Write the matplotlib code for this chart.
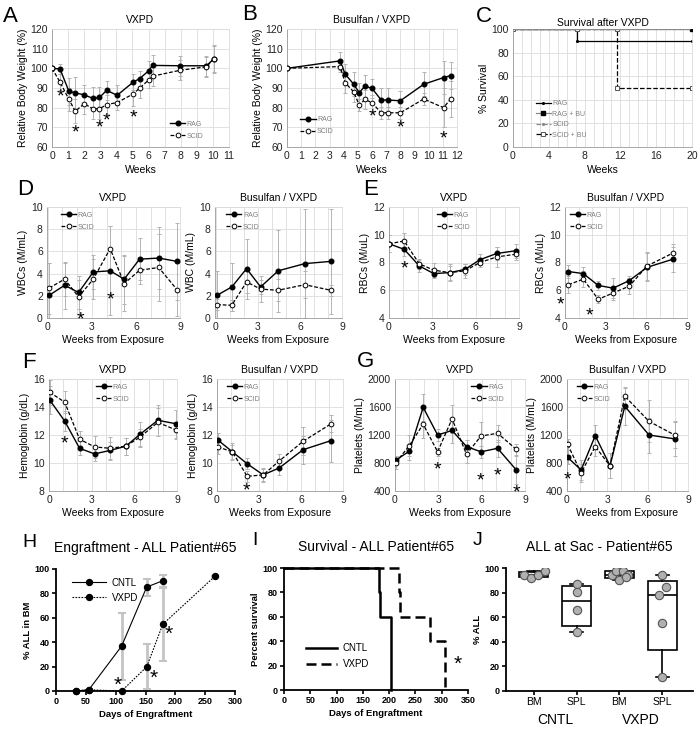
import numpy as np
import matplotlib
matplotlib.use("Agg")
import matplotlib.pyplot as plt

plt.rcParams['font.family'] = ['Liberation Sans', 'DejaVu Sans']

W, H = 700, 729

# ---------------- A : body weight after VXPD
a_weeks = [0, 0.5, 1.05, 1.45, 2.0, 2.55, 2.95, 3.4, 4.05, 5.05, 5.45, 6.0, 6.25, 7.95, 9.6, 10.05]
a_rag = [100, 99.7, 88.3, 87.5, 86.5, 84.7, 85.2, 88.8, 86.3, 93.0, 94.8, 98.7, 101.5, 101.3, 101.3, 104.8]
a_rag_err = [0, 2.5, 7, 8, 5, 6, 5.5, 5, 5, 4, 4, 5, 5.5, 5, 5, 6.5]
a_scid = [100, 93.0, 84.2, 78.2, 82.0, 79.4, 79.4, 81.6, 82.6, 87.0, 90.0, 94.0, 96.0, 99.0, 100.8, 104.8]
a_scid_err = [0, 4, 6, 6, 5, 5, 5, 5, 4, 6, 5, 4, 5, 5, 5, 7]
a_star_x = [0.5, 1.45, 2.95, 3.4, 5.05]
a_star_y = [88, 70, 72.5, 76, 77.5]

# ---------------- B : body weight after Busulfan / VXPD
b_weeks = [0, 3.75, 4.1, 4.7, 5.1, 5.5, 6.0, 6.65, 7.1, 8.0, 9.65, 11.05, 11.55]
b_rag = [100, 103.8, 97.1, 92.0, 87.6, 91.0, 89.8, 83.9, 83.9, 83.5, 91.9, 95.3, 96.3]
b_rag_err = [0, 4.5, 5, 6, 5, 5.5, 5, 6, 6, 5, 6, 8.5, 7]
b_scid = [100, 100.9, 92.7, 88.1, 81.3, 84.2, 82.5, 77.4, 77.4, 77.4, 84.4, 80.0, 84.4]
b_scid_err = [0, 3, 5, 5, 3, 5, 4, 3, 3, 3, 3, 10, 9]
b_star_x = [6.0, 8.0, 11.05]
b_star_y = [78, 72.5, 67]

# ---------------- C : survival after VXPD
c_rag_t = [0, 7.2, 7.2, 20]
c_rag_s = [100, 100, 90, 90]
c_ragbu_t = [0, 20]
c_ragbu_s = [100, 100]
c_scid_t = [0, 20]
c_scid_s = [100, 100]
c_scidbu_t = [0, 7.2, 11.6, 11.6, 20]
c_scidbu_s = [100, 100, 100, 50, 50]

# ---------------- D : WBCs
d1_weeks = [0.1, 1.15, 2.1, 3.1, 4.25, 5.2, 6.25, 7.55, 8.8]
d1_rag = [2.05, 2.95, 2.3, 4.15, 4.25, 3.5, 5.3, 5.4, 5.1]
d1_rag_err = [2.9, 2.1, 1.5, 1.5, 4.0, 2.2, 1.9, 2.8, 3.5]
d1_scid = [2.7, 3.5, 1.9, 3.5, 6.25, 3.1, 4.3, 4.55, 2.55]
d1_scid_err = [2.3, 1.5, 1.5, 1.8, 2.0, 2.5, 1.2, 3.0, 2.4]
d1_star_x = [2.2, 4.25]
d1_star_y = [0.3, 2.1]
d2_weeks = [0.1, 1.15, 2.2, 3.2, 4.45, 6.35, 8.2]
d2_rag = [2.05, 2.8, 4.45, 2.8, 4.25, 4.9, 5.1]
d2_rag_err = [2.2, 2.2, 2.7, 0.6, 3.7, 4.9, 4.7]
d2_scid = [1.2, 1.15, 3.25, 2.6, 2.5, 3.0, 2.5]
d2_scid_err = [0.5, 0.5, 1.0, 1.2, 1.0, 1.2, 0.5]

# ---------------- E : RBCs
e1_weeks = [0, 1.05, 2.1, 3.1, 4.2, 5.25, 6.3, 7.45, 8.8]
e1_rag = [9.35, 8.95, 7.75, 7.2, 7.27, 7.5, 8.2, 8.65, 8.85]
e1_rag_err = [0.6, 0.5, 0.4, 0.3, 0.5, 0.4, 0.4, 0.5, 0.5]
e1_scid = [9.35, 9.55, 7.9, 7.45, 7.27, 7.4, 8.0, 8.4, 8.6]
e1_scid_err = [0.6, 0.55, 0.35, 0.5, 0.6, 0.5, 0.35, 0.7, 0.4]
e1_star_x = [1.05]
e1_star_y = [7.9]
e2_weeks = [0.25, 1.35, 2.45, 3.55, 4.75, 6.05, 8.0]
e2_rag = [7.35, 7.2, 6.35, 6.15, 6.7, 7.65, 8.25]
e2_rag_err = [0.5, 0.5, 0.35, 0.7, 0.35, 1.0, 0.9]
e2_scid = [6.4, 6.8, 5.35, 5.8, 6.3, 7.75, 8.7]
e2_scid_err = [0.6, 0.6, 0.3, 0.5, 0.6, 1.0, 0.6]
e2_star_x = [-0.35, 1.8]
e2_star_y = [5.3, 4.5]

# ---------------- F : Hemoglobin
f1_weeks = [0.05, 1.1, 2.15, 3.2, 4.3, 5.4, 6.4, 7.65, 8.95]
f1_rag = [14.5, 13.0, 11.05, 10.65, 10.9, 11.2, 12.05, 13.05, 12.8]
f1_rag_err = [1.0, 0.7, 0.5, 0.5, 0.6, 0.6, 0.9, 1.1, 1.0]
f1_scid = [15.05, 14.35, 11.7, 11.15, 11.05, 11.2, 11.85, 12.9, 12.35]
f1_scid_err = [0.9, 0.8, 0.6, 0.8, 0.8, 0.6, 0.6, 1.0, 0.6]
f1_star_x = [1.1]
f1_star_y = [11.75]
f2_weeks = [0.05, 1.1, 2.15, 3.3, 4.45, 6.15, 8.15]
f2_rag = [11.65, 10.8, 9.95, 9.15, 9.65, 10.95, 11.6]
f2_rag_err = [0.5, 0.6, 0.4, 0.5, 0.5, 1.0, 1.5]
f2_scid = [11.15, 10.8, 9.05, 9.15, 10.15, 11.55, 12.8]
f2_scid_err = [0.5, 0.5, 0.4, 0.4, 0.5, 1.0, 0.6]
f2_star_x = [2.1]
f2_star_y = [8.4]

# ---------------- G : Platelets
g1_weeks = [0.05, 1.0, 1.95, 2.95, 3.95, 4.95, 5.95, 7.1, 8.4]
g1_rag = [840, 970, 1595, 1200, 1265, 1035, 960, 1010, 700]
g1_rag_err = [60, 120, 190, 80, 180, 100, 90, 120, 200]
g1_scid = [805, 1050, 1355, 960, 1430, 925, 1185, 1225, 995]
g1_scid_err = [90, 150, 200, 60, 200, 130, 200, 120, 80]
g1_star_x = [2.95, 5.95, 7.1, 8.4]
g1_star_y = [780, 625, 690, 445]
g2_weeks = [0.05, 1.05, 2.1, 3.2, 4.3, 6.1, 8.0]
g2_rag = [880, 700, 1190, 760, 1610, 1200, 1145]
g2_rag_err = [100, 140, 150, 180, 270, 250, 250]
g2_scid = [1065, 660, 1035, 760, 1755, 1395, 1200]
g2_scid_err = [80, 130, 130, 180, 120, 300, 180]
g2_star_x = [0.05]
g2_star_y = [635]

# ---------------- H : engraftment
h_days_cntl = [33, 55, 110, 152, 179]
h_cntl = [0, 1, 36.8, 85.2, 90.4]
h_cntl_err = [0, 0, 27.5, 7, 5]
h_days_vxpd = [33, 55, 110, 152, 179, 266]
h_vxpd = [0, 1, 0, 19.8, 54.7, 93.9]
h_vxpd_err = [0, 0, 0, 18.5, 30, 0]
h_star_x = [103, 163, 189]
h_star_y = [9, 15, 51]

# ---------------- I : survival
i_cntl_t = [0, 180, 182, 203, 204]
i_cntl_s = [100, 80, 60, 20, 0]
i_vxpd_t = [0, 219, 221, 277, 307]
i_vxpd_s = [100, 80, 60, 40, 0]

# ---------------- J : ALL at sacrifice
j_labels = ['BM', 'SPL', 'BM', 'SPL']
j_groups = ['CNTL', 'VXPD']
j_values = [
    [94.5, 92.0, 94.5, 97.5],
    [87.0, 80.5, 66.0, 48.0],
    [94.5, 97.3, 97.3, 94.5, 90.5, 92.6],
    [94.5, 84.5, 78.0, 55.0, 11.5],
]
j_jitter = [
    [-0.23, -0.07, 0.1, 0.27],
    [0, 0, 0, 0],
    [-0.17, -0.08, 0.08, 0.19, -0.02, 0.16],
    [0, 0.1, -0.08, 0, 0],
]

fig = plt.figure(figsize=(7, 7.29), dpi=100)


def px_axes(x0, x1, y0, y1):
    return fig.add_axes([x0 / W, 1 - y1 / H, (x1 - x0) / W, (y1 - y0) / H])


def excel_style(ax, xlim, ylim, xticks, yticks, xgrid):
    ax.set_xlim(xlim)
    ax.set_ylim(ylim)
    ax.set_xticks(xticks)
    ax.set_yticks(yticks)
    ax.set_xticks(xgrid, minor=True)
    ax.grid(True, axis='x', which='both', color='#dcdcdc', lw=0.6)
    ax.grid(True, axis='y', which='major', color='#dcdcdc', lw=0.6)
    ax.tick_params(which='both', length=0, labelsize=7.5, pad=3, colors='#222222')
    for s in ax.spines.values():
        s.set_color('#dcdcdc')
        s.set_linewidth(0.6)
    ax.spines['left'].set_color('#9a9a9a')
    ax.spines['bottom'].set_color('#9a9a9a')
    ax.set_axisbelow(True)


def two_series(ax, xr, yr, er, xs, ys, es):
    ax.errorbar(xr, yr, yerr=er, fmt='none', ecolor='#b3b3b3', elinewidth=0.7,
                capsize=1.5, capthick=0.7, zorder=2)
    ax.errorbar(xs, ys, yerr=es, fmt='none', ecolor='#b3b3b3', elinewidth=0.7,
                capsize=1.5, capthick=0.7, zorder=2)
    ax.plot(xr, yr, '-', color='black', lw=1.0, marker='o', ms=3.3,
            mfc='black', mec='black', label='RAG', zorder=3)
    ax.plot(xs, ys, color='black', lw=0.9, ls=(0, (3, 1.5)), marker='o', ms=3.4,
            mfc='white', mec='black', mew=0.7, label='SCID', zorder=4)


def small_legend(ax, loc, anchor):
    ax.legend(loc=loc, bbox_to_anchor=anchor, frameon=False, fontsize=5,
              handlelength=2.2, handletextpad=0.2, labelspacing=0.7,
              borderpad=0.2, labelcolor='#7f7f7f')


def stars(ax, xs, ys, size=14):
    for x, y in zip(xs, ys):
        ax.annotate('*', (x, y), xytext=(0, -3.8), textcoords='offset points',
                    ha='center', va='center', fontsize=size, annotation_clip=False)


def letter(x, y, s, size=16):
    fig.text(x / W, 1 - y / H, s, fontsize=size, ha='left', va='baseline')


# ---- A
ax = px_axes(52, 229, 29, 147)
excel_style(ax, (0, 11), (60, 120), range(0, 12), range(60, 121, 10), range(0, 12))
two_series(ax, a_weeks, a_rag, a_rag_err, a_weeks, a_scid, a_scid_err)
stars(ax, a_star_x, a_star_y)
small_legend(ax, 'lower left', (0.64, 0.02))
ax.set_title('VXPD', fontsize=7.5, pad=4)
ax.set_ylabel('Relative Body Weight (%)', fontsize=7.5, labelpad=2)
ax.set_xlabel('Weeks', fontsize=7.5, labelpad=3)

# ---- B
ax = px_axes(287, 457, 29, 147)
excel_style(ax, (0, 12), (60, 120), range(0, 13), range(60, 121, 10), range(0, 13))
two_series(ax, b_weeks, b_rag, b_rag_err, b_weeks, b_scid, b_scid_err)
stars(ax, b_star_x, b_star_y)
small_legend(ax, 'lower left', (0.05, 0.06))
ax.set_title('Busulfan / VXPD', fontsize=7.5, pad=4)
ax.set_ylabel('Relative Body Weight (%)', fontsize=7.5, labelpad=2)
ax.set_xlabel('Weeks', fontsize=7.5, labelpad=3)

# ---- C
ax = px_axes(513, 692, 29, 147)
excel_style(ax, (0, 20), (0, 100), range(0, 21, 4), range(0, 101, 20), range(0, 21))
ax.plot(c_rag_t, c_rag_s, drawstyle='steps-post', color='black', lw=0.9,
        marker='.', ms=2.5, label='RAG', zorder=2)
ax.plot(c_ragbu_t, c_ragbu_s, drawstyle='steps-post', color='#8a8a8a', lw=0.9,
        marker='s', ms=3.2, mfc='black', mec='black', markevery=[1], label='RAG + BU', zorder=3)
ax.plot(c_scid_t, c_scid_s, drawstyle='steps-post', color='#8a8a8a', lw=0.9, ls='--',
        marker='.', ms=2.5, markevery=[], label='SCID', zorder=3)
ax.plot(c_scidbu_t, c_scidbu_s, drawstyle='steps-post', color='black', lw=0.9, ls='--',
        marker='s', ms=3.4, mfc='white', mec='#555555', mew=0.7, label='SCID + BU', zorder=2)
ax.legend(loc='lower left', bbox_to_anchor=(0.1, 0.03), frameon=False, fontsize=5,
          handlelength=2.2, handletextpad=0.2, labelspacing=0.5, borderpad=0.2,
          labelcolor='#7f7f7f')
ax.set_title('Survival after VXPD', fontsize=7.5, pad=2)
ax.set_ylabel('% Survival', fontsize=7.5, labelpad=2)
ax.set_xlabel('Weeks', fontsize=7.5, labelpad=3)

# ---- D / E / F / G
blood = [
    ((47, 180, 207, 318), (-0.05, 9), (0, 10), range(0, 11, 2), 'VXPD', 'WBCs (M/mL)',
     (d1_weeks, d1_rag, d1_rag_err, d1_weeks, d1_scid, d1_scid_err), (d1_star_x, d1_star_y), (0.07, 1.0)),
    ((215, 342, 207, 318), (-0.05, 9), (0, 10), range(0, 11, 2), 'Busulfan / VXPD', 'WBC (M/mL)',
     (d2_weeks, d2_rag, d2_rag_err, d2_weeks, d2_scid, d2_scid_err), ([], []), (0.05, 1.0)),
    ((389, 519, 207, 318), (0, 9), (4, 12), range(4, 13, 2), 'VXPD', 'RBCs (M/uL)',
     (e1_weeks, e1_rag, e1_rag_err, e1_weeks, e1_scid, e1_scid_err), (e1_star_x, e1_star_y), (0.33, 1.0)),
    ((565, 687, 207, 318), (0, 9), (4, 12), range(4, 13, 2), 'Busulfan / VXPD', 'RBCs (M/uL)',
     (e2_weeks, e2_rag, e2_rag_err, e2_weeks, e2_scid, e2_scid_err), (e2_star_x, e2_star_y), (0.0, 1.0)),
    ((49, 177, 379, 491), (0, 9), (8, 16), range(8, 17, 2), 'VXPD', 'Hemoglobin (g/dL)',
     (f1_weeks, f1_rag, f1_rag_err, f1_weeks, f1_scid, f1_scid_err), (f1_star_x, f1_star_y), (0.33, 1.0)),
    ((217, 343, 379, 491), (0, 9), (8, 16), range(8, 17, 2), 'Busulfan / VXPD', 'Hemoglobin (g/dL)',
     (f2_weeks, f2_rag, f2_rag_err, f2_weeks, f2_scid, f2_scid_err), (f2_star_x, f2_star_y), (0.04, 1.0)),
    ((395, 525, 379, 491), (0, 9), (400, 2000), range(400, 2001, 400), 'VXPD', 'Platelets (M/mL)',
     (g1_weeks, g1_rag, g1_rag_err, g1_weeks, g1_scid, g1_scid_err), (g1_star_x, g1_star_y), (0.55, 1.0)),
    ((567, 688, 379, 491), (0, 9), (400, 2000), range(400, 2001, 400), 'Busulfan / VXPD', 'Platelets (M/mL)',
     (g2_weeks, g2_rag, g2_rag_err, g2_weeks, g2_scid, g2_scid_err), (g2_star_x, g2_star_y), (0.04, 1.0)),
]
for box, xl, yl, yt, title, ylab, series, st, anchor in blood:
    ax = px_axes(*box)
    excel_style(ax, xl, yl, [0, 3, 6, 9], yt, range(0, 10))
    two_series(ax, *series)
    stars(ax, *st)
    small_legend(ax, 'upper left', anchor)
    ax.set_title(title, fontsize=7.5, pad=4)
    ax.set_ylabel(ylab, fontsize=7.5, labelpad=2)
    ax.set_xlabel('Weeks from Exposure', fontsize=7.5, labelpad=2)


def prism_style(ax):
    for s in ['top', 'right']:
        ax.spines[s].set_visible(False)
    for s in ['left', 'bottom']:
        ax.spines[s].set_linewidth(1.3)
    ax.tick_params(length=3, width=1.2, labelsize=6.5, pad=1.5)
    for t in ax.get_xticklabels() + ax.get_yticklabels():
        t.set_fontweight('bold')


# ---- H
ax = px_axes(56, 235, 569, 691)
ax.set_xlim(0, 300)
ax.set_ylim(0, 100)
ax.set_xticks(range(0, 301, 50))
ax.set_yticks(range(0, 101, 20))
ax.errorbar(h_days_cntl, h_cntl, yerr=h_cntl_err, fmt='none', ecolor='#c4c4c4',
            elinewidth=2, capsize=3, capthick=1.5, zorder=2)
ax.errorbar(h_days_vxpd, h_vxpd, yerr=h_vxpd_err, fmt='none', ecolor='#c4c4c4',
            elinewidth=2, capsize=3, capthick=1.5, zorder=2)
ax.plot(h_days_cntl, h_cntl, '-', color='black', lw=0.8, marker='o', ms=4.3,
        label='CNTL', zorder=3, clip_on=False)
ax.plot(h_days_vxpd, h_vxpd, color='black', lw=0.8, ls=(0, (1.5, 1.2)), marker='o', ms=4.3,
        label='VXPD', zorder=3, clip_on=False)
stars(ax, h_star_x, h_star_y, size=15)
ax.legend(loc='upper left', bbox_to_anchor=(0.04, 1.0), frameon=False, fontsize=7,
          handlelength=3.5, handletextpad=0.6, labelspacing=0.5)
prism_style(ax)
ax.set_title('Engraftment - ALL Patient#65', fontsize=10, pad=12)
ax.set_ylabel('% ALL in BM', fontsize=6.8, fontweight='bold', labelpad=2)
ax.set_xlabel('Days of Engraftment', fontsize=6.8, fontweight='bold', labelpad=3)

# ---- I
ax = px_axes(284, 468, 568, 690)
ax.set_xlim(0, 350)
ax.set_ylim(0, 100)
ax.set_xticks(range(0, 351, 50))
ax.set_yticks(range(0, 101, 20))
ax.step(i_cntl_t, i_cntl_s, where='post', color='black', lw=1.8, label='CNTL', clip_on=False)
ax.step(i_vxpd_t, i_vxpd_s, where='post', color='black', lw=1.8, ls=(0, (4, 2)),
        label='VXPD', clip_on=False)
stars(ax, [330], [25], size=15)
ax.legend(loc='lower left', bbox_to_anchor=(0.07, 0.1), frameon=False, fontsize=7,
          handlelength=3.2, handletextpad=0.6, labelspacing=0.6)
prism_style(ax)
ax.set_title('Survival - ALL Patient#65', fontsize=10, pad=12)
ax.set_ylabel('Percent survival', fontsize=6.8, fontweight='bold', labelpad=2)
ax.set_xlabel('Days of Engraftment', fontsize=6.8, fontweight='bold', labelpad=3)

# ---- J
ax = px_axes(506, 693, 568, 691)
stats = []
for vals in j_values:
    q1, med, q3 = np.percentile(vals, [25, 50, 75], method='weibull')
    stats.append({'q1': q1, 'med': med, 'q3': q3, 'whislo': min(vals),
                  'whishi': max(vals), 'fliers': []})
ax.bxp(stats, positions=range(len(stats)), widths=0.68, capwidths=0.3, showfliers=False,
       patch_artist=True,
       boxprops=dict(facecolor='white', edgecolor='black', lw=1.2),
       medianprops=dict(color='black', lw=1.2),
       whiskerprops=dict(color='black', lw=1.2),
       capprops=dict(color='black', lw=1.2))
for i, (vals, jit) in enumerate(zip(j_values, j_jitter)):
    ax.plot(np.array(jit) + i, vals, 'o', ms=6, mfc='#b0b0b0', mec='#555555', mew=0.8, zorder=4)
ax.set_xlim(-0.65, 3.72)
ax.set_ylim(0, 100)
ax.set_yticks(range(0, 101, 20))
ax.set_xticks(range(4))
prism_style(ax)
ax.set_xticklabels(j_labels, fontsize=7.5, fontweight='normal')
for k, g in enumerate(j_groups):
    ax.text(0.5 + 2 * k, -0.235, g, transform=ax.get_xaxis_transform(),
            ha='center', va='center', fontsize=10)
ax.set_title('ALL at Sac - Patient#65', fontsize=10, pad=12)
ax.set_ylabel('% ALL', fontsize=6.8, fontweight='bold', labelpad=2)

# panel letters
letter(3, 22, 'A')
letter(242, 20, 'B')
letter(476, 22, 'C')
letter(17, 195, 'D')
letter(363, 195, 'E')
letter(22, 368, 'F')
letter(357, 367, 'G')
letter(22, 547, 'H', 14)
letter(252, 545, 'I', 14)
letter(473, 545, 'J', 14)

fig.savefig('out.png', dpi=100)
